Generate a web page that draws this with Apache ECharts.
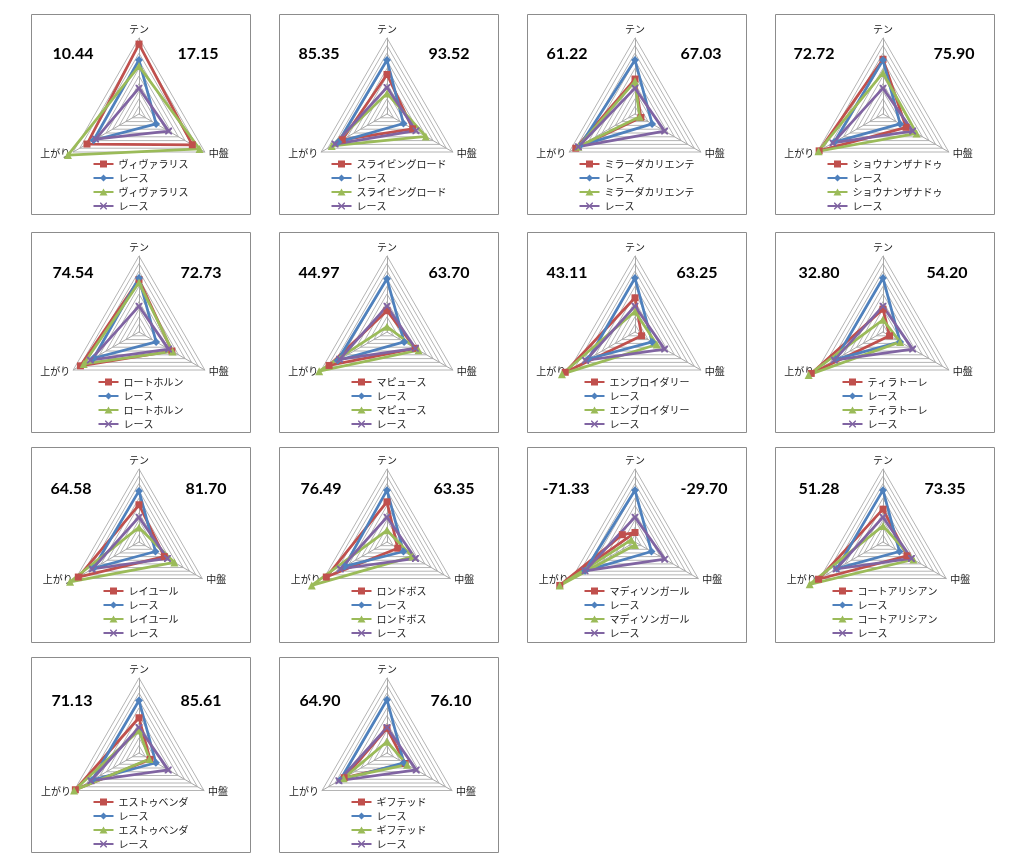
<!DOCTYPE html>
<html><head><meta charset="utf-8">
<script src="https://cdn.jsdelivr.net/npm/echarts@6/dist/echarts.min.js"></script>
<style>html,body{margin:0;padding:0;background:#fff;width:1024px;height:866px;overflow:hidden}.p{position:absolute}</style>
</head><body>
<script>
// ---- data ----
const axes = ['テン', '上がり', '中盤'];
const horseNames = ['ヴィヴァラリス','スライビングロード','ミラーダカリエンテ','ショウナンザナドゥ','ロートホルン','マピュース','エンブロイダリー','ティラトーレ','レイユール','ロンドボス','マディソンガール','コートアリシアン','エストゥベンダ','ギフテッド'];
const raceName = 'レース';
const leftScores  = ['10.44','85.35','61.22','72.72','74.54','44.97','43.11','32.80','64.58','76.49','-71.33','51.28','71.13','64.90'];
const rightScores = ['17.15','93.52','67.03','75.90','72.73','63.70','63.25','54.20','81.70','63.35','-29.70','73.35','85.61','76.10'];
// values per panel in axis order: テン, 上がり, 中盤 (scale 0-100)
const redValues = [
  [92,79,81],[52,68,39],[46,90,9],[72,97,35],[69,89,50],[28,88,43],[45,106,10],
  [30,109,10],[51,96,40],[55,96,17],[13,119,-20],[45,102,38],[47,98,17],[33,66,28]
];
const greenValues = [
  [63,108,92],[27,84,59],[43,86,7],[54,98,51],[65,84,51],[7,103,48],[27,111,33],
  [16,113,26],[20,109,56],[16,119,40],[-4,119,-6],[22,116,48],[30,100,16],[15,67,31]
];
const blueValues = [
  [71,69,26],[71,74,25],[71,84,26],[71,74,26],[71,69,26],[70,75,26],[71,71,26],
  [71,72,26],[70,72,26],[71,67,26],[71,79,26],[71,73,26],[70,72,26],[71,72,26]
];
const purpleValues = [
  [34,66,45],[35,79,44],[34,86,45],[34,76,45],[34,74,45],[34,72,43],[34,75,45],
  [34,74,45],[34,74,45],[34,74,45],[34,79,47],[34,74,45],[34,74,45],[34,74,45]
];

// ---- layout / style ----
const colLeft = [31, 279, 527, 775];
const rowTop = [14, 232, 447, 657];
const rowH = [200, 200, 195, 195];
const rowCy = [100, 100, 95, 96];
const rowR = [76, 76, 73, 75];
const rowLegendTop = [145, 145, 139, 140];
const scoreLeftX = [42,40,40,39,42,40,40,44,40,42,39,44,41,41];
const scoreRightX = [167,170,174,179,170,170,170,172,175,175,177,170,170,172];
const scoreY = [40,40,40,40,41,41,41,41,42,42,42,42,44,44];
const PW = 220;
const COLORS = ['#C0504D','#4F81BD','#9BBB59','#8064A2'];
const XPATH = 'path://M0,0 L2,0 L10,8 L10,10 L8,10 L0,2 Z M10,0 L10,2 L2,10 L0,10 L0,8 L8,0 Z';
const SYMBOLS = ['rect','diamond','triangle',XPATH];
const SYMSIZE = [7,8,8,7];
const LINEBAR = 'M0,2.5 L20,2.5 L20,4.5 L0,4.5 Z ';
const ICONS = [
  'path://' + LINEBAR + 'M6.5,0 L13.5,0 L13.5,7 L6.5,7 Z',
  'path://' + LINEBAR + 'M10,0 L13.5,3.5 L10,7 L6.5,3.5 Z',
  'path://' + LINEBAR + 'M10,0 L14,7 L6,7 Z',
  'path://' + LINEBAR + 'M6.5,0 L7.5,0 L13.5,6 L13.5,7 L12.5,7 L6.5,1 Z M13.5,0 L13.5,1 L7.5,7 L6.5,7 L6.5,6 L12.5,0 Z'
];
const JP = '"Noto Sans CJK JP", sans-serif';

horseNames.forEach((horse, i) => {
  const col = i % 4, row = Math.floor(i / 4);
  const H = rowH[row] + 1;
  const div = document.createElement('div');
  div.className = 'p';
  div.style.left = colLeft[col] + 'px';
  div.style.top = rowTop[row] + 'px';
  div.style.width = PW + 'px';
  div.style.height = H + 'px';
  document.body.appendChild(div);
  const cx = 108, cy = rowCy[row], R = rowR[row];
  const names = [horse, raceName, horse + '\u200B', raceName + '\u200B'];
  const vals = [redValues[i], blueValues[i], greenValues[i], purpleValues[i]];
  const chart = echarts.init(div, null, {renderer: 'canvas'});
  chart.setOption({
    animation: false,
    radar: {
      center: [cx, cy], radius: R, startAngle: 90, splitNumber: 10, shape: 'polygon',
      indicator: axes.map(n => ({name: n, min: 0, max: 100})),
      axisName: {show: false},
      axisLine: {lineStyle: {color: '#A8A8A8', width: 1}},
      splitLine: {lineStyle: {color: '#B4B4B4', width: 1}},
      splitArea: {show: false},
      axisLabel: {show: false}, axisTick: {show: false}
    },
    legend: {
      orient: 'vertical', left: 'center', top: rowLegendTop[row],
      itemWidth: 20, itemHeight: 7, itemGap: 4, padding: 0,
      textStyle: {fontFamily: JP, fontSize: 10, color: '#1a1a1a'},
      itemStyle: {borderWidth: 0},
      selectedMode: false,
      data: names.map((n, k) => ({name: n, icon: ICONS[k], itemStyle: {color: COLORS[k], borderWidth: 0}}))
    },
    series: [{
      type: 'radar',
      data: names.map((n, k) => ({
        name: n, value: vals[k],
        symbol: SYMBOLS[k], symbolSize: SYMSIZE[k],
        itemStyle: {color: COLORS[k]},
        lineStyle: {color: COLORS[k], width: 2.75}
      }))
    }],
    graphic: [
      {type: 'rect', silent: true, z: -1, shape: {x: 0.5, y: 0.5, width: PW - 1, height: H - 1}, style: {fill: 'none', stroke: '#8C8C8C', lineWidth: 1}},
      {type: 'text', silent: true, x: cx, y: cy - R - 4, style: {text: axes[0], font: '10px ' + JP, fill: '#1a1a1a', textAlign: 'center', textVerticalAlign: 'bottom'}},
      {type: 'text', silent: true, x: cx - R * 0.866 - 3, y: cy + R / 2 + 1, style: {text: axes[1], font: '10px ' + JP, fill: '#1a1a1a', textAlign: 'right', textVerticalAlign: 'middle'}},
      {type: 'text', silent: true, x: cx + R * 0.866 + 4, y: cy + R / 2 + 1, style: {text: axes[2], font: '10px ' + JP, fill: '#1a1a1a', textAlign: 'left', textVerticalAlign: 'middle'}},
      {type: 'text', silent: true, x: scoreLeftX[i], y: scoreY[i], style: {text: leftScores[i], font: 'bold 16px Lato, sans-serif', fill: '#000', textAlign: 'center', textVerticalAlign: 'middle'}},
      {type: 'text', silent: true, x: scoreRightX[i], y: scoreY[i], style: {text: rightScores[i], font: 'bold 16px Lato, sans-serif', fill: '#000', textAlign: 'center', textVerticalAlign: 'middle'}}
    ]
  });
});
</script>
</body></html>
